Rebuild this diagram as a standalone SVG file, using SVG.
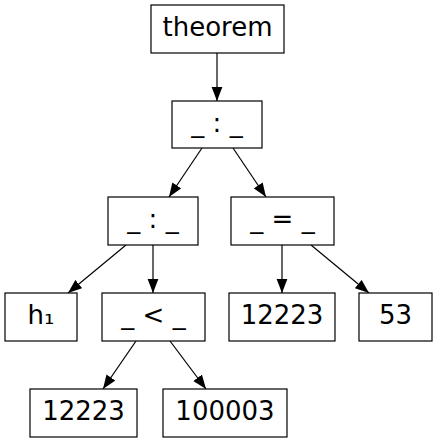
<svg xmlns="http://www.w3.org/2000/svg" width="437" height="443" viewBox="0 0 437 443">
<defs>
<style>
.n rect{fill:#fff;stroke:#000;stroke-width:1.2}
.n text{font-family:"DejaVu Sans",sans-serif;font-size:26px;text-anchor:middle;fill:#000}
.e line{stroke:#000;stroke-width:1.2;marker-end:url(#ah)}
</style>
<marker id="ah" markerUnits="userSpaceOnUse" markerWidth="14" markerHeight="12" viewBox="0 0 13 10" refX="13" refY="5" orient="auto">
<path d="M0,0 L13,5 L0,10 Z" fill="#000"/>
</marker>
</defs>
<rect width="437" height="443" fill="#fff"/>
<g id="edges" class="e">
<line x1="217" y1="53" x2="217" y2="101"/>
<line x1="202" y1="148" x2="169" y2="197"/>
<line x1="233" y1="148" x2="266" y2="197"/>
<line x1="126" y1="245" x2="68" y2="293"/>
<line x1="153" y1="245" x2="153" y2="293"/>
<line x1="282" y1="245" x2="282" y2="293"/>
<line x1="311" y1="245" x2="369" y2="293"/>
<line x1="136" y1="341" x2="103" y2="389"/>
<line x1="170" y1="341" x2="206" y2="389"/>
</g>
<g id="theorem" class="n"><rect x="151" y="5" width="133" height="48"/><text x="217.5" y="36">theorem</text></g>
<g id="colon1" class="n"><rect x="172" y="101" width="90" height="47"/><text x="217" y="132">_ : _</text></g>
<g id="colon2" class="n"><rect x="108" y="197" width="90" height="48"/><text x="153" y="228">_ : _</text></g>
<g id="eq" class="n"><rect x="231" y="197" width="103" height="48"/><text x="282.5" y="228">_ = _</text></g>
<g id="h1" class="n"><rect x="5" y="293" width="72" height="48"/><text x="41" y="324">h₁</text></g>
<g id="lt" class="n"><rect x="102" y="293" width="103" height="48"/><text x="153.5" y="324">_ &lt; _</text></g>
<g id="n12223a" class="n"><rect x="229" y="293" width="106" height="48"/><text x="282" y="324">12223</text></g>
<g id="n53" class="n"><rect x="359" y="293" width="73" height="48"/><text x="395.5" y="324">53</text></g>
<g id="n12223b" class="n"><rect x="30" y="389" width="107" height="48"/><text x="83.5" y="420">12223</text></g>
<g id="n100003" class="n"><rect x="163" y="389" width="124" height="48"/><text x="225" y="420">100003</text></g>
</svg>
